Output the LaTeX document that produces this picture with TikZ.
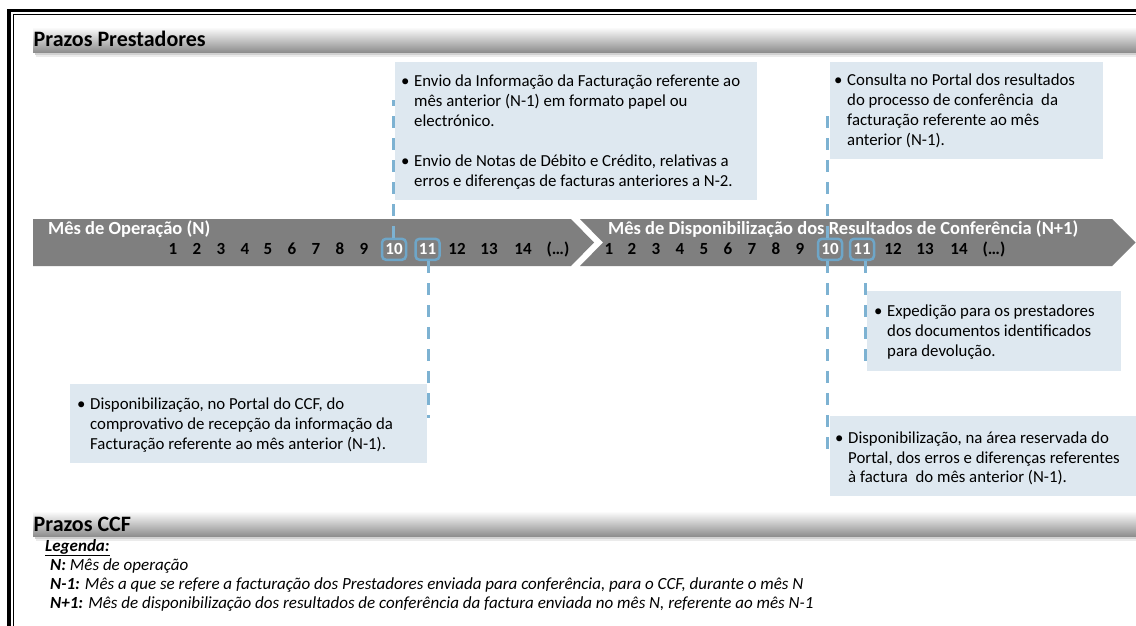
\documentclass[tikz,border=0pt]{standalone}
\usepackage{fontspec}
\setmainfont{Carlito}
\definecolor{bandgray}{RGB}{127,127,127}
\definecolor{boxfill}{RGB}{222,232,240}
\definecolor{dashblue}{RGB}{125,178,210}
\definecolor{dayblue}{RGB}{110,166,200}
\newcommand\bxfont{\fontsize{16.8}{19.7}\selectfont}
\newcommand\dayfont{\fontsize{17}{20}\selectfont\bfseries}
\newcommand\ttlfont{\fontsize{18.5}{20}\selectfont\bfseries}
\newcommand\hdfont{\fontsize{22}{24}\selectfont\bfseries}
\newcommand\lgfont{\fontsize{17}{19}\selectfont\itshape}
\newcommand\blt{\makebox[13pt][l]{\textbullet}}
\newcommand\ind{\hspace*{13pt}}
\begin{document}
\begin{tikzpicture}[x=1pt,y=-1pt,
  infobox/.style={fill=boxfill, draw=none, inner sep=0pt, anchor=north west},
  boxtext/.style={anchor=base west, align=left, inner sep=0pt, font=\bxfont},
  chevron/.style={fill=bandgray, draw=none},
  daybox/.style={draw=dayblue, line width=2.5pt, rounded corners=4pt, minimum width=24pt, minimum height=21pt, inner sep=0pt, fill=bandgray},
  daynum/.style={anchor=base, inner sep=0pt, font=\dayfont},
  bandtitle/.style={anchor=base west, inner sep=0pt, font=\ttlfont, text=white},
  dl/.style={draw=dashblue, line width=3pt, dash pattern=on 12pt off 10pt},
  hdtext/.style={anchor=base west, inner sep=0pt, font=\hdfont},
  lgtext/.style={anchor=base west, inner sep=0pt, font=\lgfont}]
\useasboundingbox (0,0) rectangle (1136,626);
\clip (0,0) rectangle (1136,626);
\fill[white] (0,0) rectangle (1136,626);
% frame
\draw[line width=3.3pt] (9,10.5) rectangle (1160,660);
\draw[line width=1.2pt] (13.5,14.7) rectangle (1160,660);
% header bars
\fill[black!18] (35,52) rectangle (1136,55);
\fill[black!8] (36,55) rectangle (1136,57);
\shade[top color=white, middle color=black!6, bottom color=black!45] (33,27) rectangle (1136,52.5);
\node[hdtext] (hd1) at (33.5,46.7) {Prazos Prestadores};
\fill[black!18] (35,536) rectangle (1136,539);
\fill[black!8] (36,539) rectangle (1136,541);
\shade[top color=white, middle color=black!6, bottom color=black!45] (33,511) rectangle (1136,536.5);
\node[hdtext] (hd2) at (33.5,531) {Prazos CCF};
% band
\fill[chevron] (33,219) -- (571,219) -- (594,242.5) -- (571,266) -- (33,266) -- cycle;
\fill[chevron] (580,219) -- (1112,219) -- (1135.5,242.5) -- (1112,266) -- (580,266) -- (603,242.5) -- cycle;
\node[bandtitle] (ttl1) at (48,234.3) {Mês de Operação (N)};
\node[bandtitle] (ttl2) at (608,234.3) {Mês de Disponibilização dos Resultados de Conferência (N+1)};
% day boxes
\node[daybox] (b10a) at (394,249.3) {};
\node[daybox] (b11a) at (427.5,249.3) {};
\node[daybox] (b10b) at (830,249.3) {};
\node[daybox] (b11b) at (862,249.3) {};
\foreach \x/\l [count=\i] in {173/1,197/2,221/3,245/4,268/5,292/6,316/7,340/8,364/9,457/12,489/13,523/14}
  \node[daynum] (na\i) at (\x,254.3) {\l};
\foreach \x/\l [count=\i] in {609/1,632/2,656/3,680/4,704/5,728/6,752/7,776/8,800/9,893/12,925/13,959/14}
  \node[daynum] (nb\i) at (\x,254.3) {\l};
\node[daynum] (naend) at (558,254.3) {(…)};
\node[daynum] (nbend) at (994,254.3) {(…)};
\node[daynum, text=white] (n10a) at (394,254.3) {10};
\node[daynum, text=white] (n11a) at (427.5,254.3) {11};
\node[daynum, text=white] (n10b) at (830,254.3) {10};
\node[daynum, text=white] (n11b) at (862,254.3) {11};
% info boxes
\node[infobox, minimum width=362pt, minimum height=138pt] (box1) at (395,62) {};
\node[infobox, minimum width=273pt, minimum height=97pt] (box2) at (829.5,62) {};
\node[infobox, minimum width=254pt, minimum height=80pt] (box3) at (866.5,291) {};
\node[infobox, minimum width=357pt, minimum height=79pt] (box4) at (70,384) {};
\node[infobox, minimum width=310pt, minimum height=80pt] (box5) at (829.5,416) {};
\node[boxtext] (t1) at (401,186) {\blt Envio da Informação da Facturação referente ao\\
\ind mês anterior (N-1) em formato papel ou\\
\ind electrónico.\\[20.3pt]
\blt Envio de Notas de Débito e Crédito, relativas a\\
\ind erros e diferenças de facturas anteriores a N-2.};
\node[boxtext] (t2) at (834,145) {\blt Consulta no Portal dos resultados\\
\ind do processo de conferência\ \ da\\
\ind facturação referente ao mês\\
\ind anterior (N-1).};
\node[boxtext] (t3) at (874,356) {\blt Expedição para os prestadores\\
\ind dos documentos identificados\\
\ind para devolução.};
\node[boxtext] (t4) at (77,449.3) {\blt Disponibilização, no Portal do CCF, do\\
\ind comprovativo de recepção da informação da\\
\ind Facturação referente ao mês anterior (N-1).};
\node[boxtext] (t5) at (835,482.7) {\blt Disponibilização, na área reservada do\\
\ind Portal, dos erros e diferenças referentes\\
\ind à factura\ \ do mês anterior (N-1).};
% dashed connectors
\coordinate (l1top) at (393,100);
\coordinate (l2end) at (428,418);
\coordinate (l3top) at (827.7,110);
\coordinate (l4end) at (827.7,453);
\coordinate (l5end) at (865,364);
\draw[dl] (b10a.north -| l1top) -- (l1top);
\draw[dl] (b11a.south -| l2end) -- (l2end);
\draw[dl] (b10b.north -| l3top) -- (l3top);
\draw[dl] (b10b.south -| l4end) -- (l4end);
\draw[dl] (b11b.south -| l5end) -- (l5end);
% legend
\node[lgtext] (lg0) at (45,551) {\bfseries\underline{Legenda:}};
\node[lgtext] (lg1) at (50,570) {\textbf{N:} Mês de operação};
\node[lgtext] (lg2) at (50,589) {\textbf{N-1:} Mês a que se refere a facturação dos Prestadores enviada para conferência, para o CCF, durante o mês N};
\node[lgtext] (lg3) at (50,608) {\textbf{N+1:} Mês de disponibilização dos resultados de conferência da factura enviada no mês N, referente ao mês N-1};
\end{tikzpicture}
\end{document}
